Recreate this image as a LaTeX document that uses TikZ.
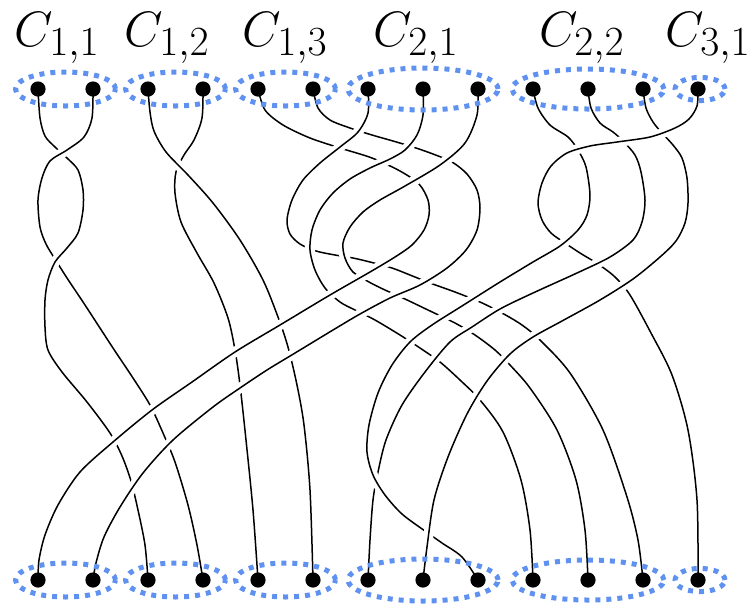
\documentclass[tikz,border=0pt]{standalone}
\usepackage{amsmath, amssymb}
\usepackage{tikz}
\definecolor{ringBlue}{RGB}{95, 145, 240}

% strands, top dot to bottom dot
\newcommand{\braidA}{plot[smooth] coordinates {(t0) (40,118) (45,136) (55,147) (67,158) (78,170) (83,190) (83,210) (78,233) (67,248) (55,262) (48,280) (45,300) (45,327) (48,350) (62,372) (87,402) (110,433) (122,456) (131,481) (138,510) (145,545) (b2)}}
\newcommand{\braidB}{plot[smooth] coordinates {(t1) (92,118) (84,137) (67,150) (50,161) (42,178) (38,200) (40,227) (46,244) (55,259) (67,278) (85,305) (113,348) (133,378) (150,405) (163,433) (175,462) (188,505) (197,545) (b3)}}
\newcommand{\braidC}{plot[smooth] coordinates {(t2) (150,112) (154,131) (166,152) (188,175) (213,203) (240,240) (263,280) (278,317) (288,347) (297,385) (304,425) (310,490) (b5)}}
\newcommand{\braidD}{plot[smooth] coordinates {(t3) (202,118) (194,140) (184,155) (176,172) (175,193) (181,222) (197,253) (214,283) (228,318) (235,350) (240,385) (246,440) (253,510) (b4)}}
\newcommand{\braidE}{plot[smooth] coordinates {(t4) (265,110) (283,125) (310,138) (340,148) (372,158) (400,171) (419,184) (428,200) (429,215) (424,230) (412,245) (395,257) (370,272) (330,295) (280,325) (235,352) (192,382) (152,410) (113,442) (80,472) (58,505) (45,535) (39,560) (b0)}}
\newcommand{\braidF}{plot[smooth] coordinates {(t5) (318,108) (330,120) (350,128) (372,135) (393,141) (413,147) (433,154) (452,162) (467,174) (477,190) (480,208) (477,230) (466,250) (447,268) (420,285) (390,298) (360,314) (333,330) (300,350) (267,370) (240,388) (213,407) (173,440) (143,473) (120,507) (104,537) (96,563) (b1)}}
\newcommand{\braidG}{plot[smooth] coordinates {(t6) (368,113) (358,132) (340,147) (320,163) (303,180) (292,200) (287,220) (290,234) (300,244) (316,251) (335,255) (353,258) (370,262) (392,268) (410,275) (430,283) (455,292) (480,302) (502,313) (522,325) (540,340) (570,373) (603,430) (627,497) (638,540) (b11)}}
\newcommand{\braidH}{plot[smooth] coordinates {(t7) (423,115) (417,135) (405,150) (390,159) (370,168) (350,179) (333,193) (320,210) (312,230) (310,250) (315,270) (325,288) (340,302) (355,310) (375,320) (400,335) (420,348) (440,362) (460,380) (480,400) (503,432) (521,480) (530,530) (b9)}}
\newcommand{\braidI}{plot[smooth] coordinates {(t8) (477,115) (465,143) (440,165) (405,186) (380,200) (363,212) (350,227) (343,243) (345,258) (353,272) (369,282) (385,290) (405,299) (428,310) (455,323) (475,335) (495,350) (510,365) (530,388) (557,430) (576,480) (585,530) (b10)}}
\newcommand{\braidJ}{plot[smooth] coordinates {(t9) (538,108) (550,125) (568,137) (578,150) (586,167) (590,195) (587,215) (578,230) (560,246) (533,262) (500,282) (462,306) (432,325) (410,342) (392,365) (378,393) (369,425) (367,452) (373,475) (385,495) (402,514) (425,531) (442,543) (462,557) (b8)}}
\newcommand{\braidK}{plot[smooth] coordinates {(t10) (591,108) (600,123) (613,132) (623,141) (635,155) (641,172) (645,200) (642,222) (633,240) (610,257) (577,273) (533,293) (500,309) (472,327) (450,342) (425,372) (402,405) (386,440) (378,472) (373,500) (370,540) (b6)}}
\newcommand{\braidL}{plot[smooth] coordinates {(t11) (646,108) (653,122) (662,133) (673,145) (682,158) (687,178) (688,203) (685,223) (676,241) (660,257) (633,279) (600,300) (562,321) (533,337) (510,354) (487,381) (467,414) (448,457) (434,500) (427,547) (b7)}}
\newcommand{\braidM}{plot[smooth] coordinates {(t12) (697,106) (689,119) (675,128) (650,137) (617,142) (590,146) (567,153) (551,166) (542,183) (538,203) (542,220) (551,233) (565,243) (580,253) (598,264) (615,277) (630,295) (651,333) (672,375) (688,430) (697,500) (b12)}}

\begin{document}
\begin{tikzpicture}[x=0.5pt, y=-0.5pt,
    strand/.style={line width=0.75pt, preaction={draw=white, line width=5pt}},
    ring/.style={ringBlue, line width=2.5pt, dash pattern=on 2.5pt off 3pt},
    ctext/.style={anchor=base, font=\Huge}]
  \useasboundingbox (0,0) rectangle (756,607);

  \foreach \i in {0,...,12} {
    \coordinate (t\i) at ({38+55*\i},89);
    \coordinate (b\i) at ({38+55*\i},580);
  }

  % twist of C_{1,1}
  \draw[strand] \braidA;
  \draw[strand] \braidB;
  \begin{scope}
    \clip (25,230) rectangle (95,290);
    \draw[strand] \braidA;
  \end{scope}
  \draw[strand] \braidD;
  \draw[strand] \braidC;

  \draw[strand] \braidG;
  \draw[strand] \braidH;
  \draw[strand] \braidI;
  \draw[strand] \braidM;
  \draw[strand] \braidK;
  \draw[strand] \braidJ;
  \draw[strand] \braidL;
  \begin{scope}
    \clip (556,116) rectangle (692,172);
    \draw[strand] \braidM;
  \end{scope}

  \draw[strand] \braidE;
  \draw[strand] \braidF;
  \begin{scope}
    \clip (330,112) rectangle (462,202);
    \draw[strand] \braidG;
    \draw[strand] \braidH;
    \draw[strand] \braidI;
  \end{scope}

  % groups
  \foreach \y in {89, 580} {
    \draw[ring] (65.5,\y) ellipse (25pt and 8.5pt);
    \draw[ring] (175.5,\y) ellipse (25pt and 8.5pt);
    \draw[ring] (285.5,\y) ellipse (25pt and 8.5pt);
    \draw[ring] (423,\y) ellipse (37.5pt and 10.5pt);
    \draw[ring] (588,\y) ellipse (38pt and 10pt);
    \draw[ring] (700,\y) ellipse (12.5pt and 5.8pt);
  }
  \foreach \i in {0,...,12}
    \fill (t\i) circle (3.8pt) (b\i) circle (3.8pt);

  \node[ctext] (c11) at (57,46) {$C_{1,1}$};
  \node[ctext] (c12) at (167,46) {$C_{1,2}$};
  \node[ctext] (c13) at (285,46) {$C_{1,3}$};
  \node[ctext] (c21) at (416,46) {$C_{2,1}$};
  \node[ctext] (c22) at (582,46) {$C_{2,2}$};
  \node[ctext] (c31) at (708,46) {$C_{3,1}$};
\end{tikzpicture}
\end{document}
